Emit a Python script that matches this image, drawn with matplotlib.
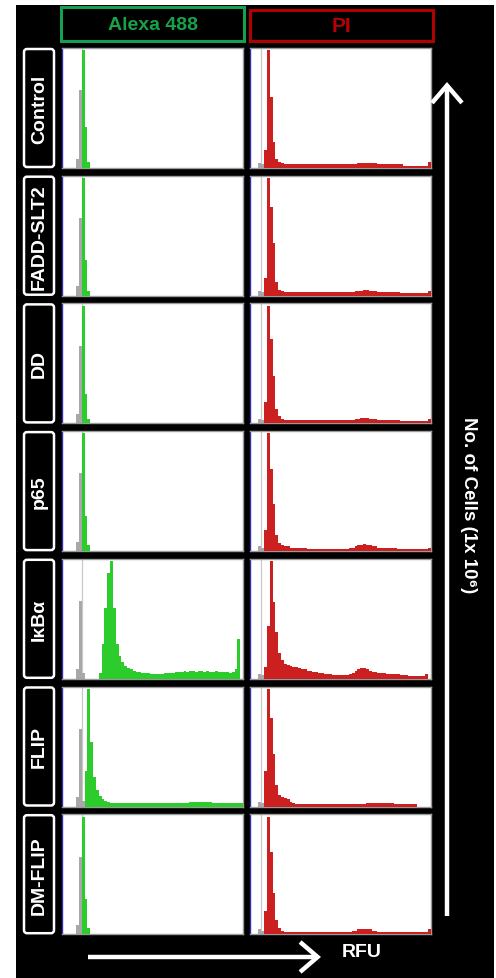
import matplotlib
matplotlib.use("Agg")
import matplotlib.pyplot as plt
from matplotlib.patches import Rectangle, FancyBboxPatch, FancyArrowPatch
import numpy as np

plt.rcParams['font.family'] = ['Liberation Sans', 'DejaVu Sans']

# ---------------- data ----------------
SAMPLES = ["Control", "FADD-SLT2", "DD", "p65", "IκBα", "FLIP", "DM-FLIP"]
CHANNELS = ["Alexa 488", "PI"]
X_LABEL = "RFU"
Y_LABEL = "No. of Cells (1x 10⁶)"

# 64 fluorescence bins (relative counts, % of max)
GRAY_ALEXA = [0, 0, 0, 0, 0, 8, 66, 5, 0, 0, 0, 0, 0, 0, 0, 0,
              0, 0, 0, 0, 0, 0, 0, 0, 0, 0, 0, 0, 0, 0, 0, 0,
              0, 0, 0, 0, 0, 0, 0, 0, 0, 0, 0, 0, 0, 0, 0, 0,
              0, 0, 0, 0, 0, 0, 0, 0, 0, 0, 0, 0, 0, 0, 0, 0]
GRAY_PI = [0, 0, 0, 4, 3, 0, 0, 0, 0, 0, 0, 0, 0, 0, 0, 0,
           0, 0, 0, 0, 0, 0, 0, 0, 0, 0, 0, 0, 0, 0, 0, 0,
           0, 0, 0, 0, 0, 0, 0, 0, 0, 0, 0, 0, 0, 0, 0, 0,
           0, 0, 0, 0, 0, 0, 0, 0, 0, 0, 0, 0, 0, 0, 0, 0]
GATE_ALEXA = 6.9
GATE_PI = 4.0

ALEXA_CONTROL = [0, 0, 0, 0, 0, 0, 0, 100, 35, 5, 0, 0, 0, 0, 0, 0,
                 0, 0, 0, 0, 0, 0, 0, 0, 0, 0, 0, 0, 0, 0, 0, 0,
                 0, 0, 0, 0, 0, 0, 0, 0, 0, 0, 0, 0, 0, 0, 0, 0,
                 0, 0, 0, 0, 0, 0, 0, 0, 0, 0, 0, 0, 0, 0, 0, 0]
ALEXA_FADD = [0, 0, 0, 0, 0, 0, 0, 100, 30, 4, 0, 0, 0, 0, 0, 0,
              0, 0, 0, 0, 0, 0, 0, 0, 0, 0, 0, 0, 0, 0, 0, 0,
              0, 0, 0, 0, 0, 0, 0, 0, 0, 0, 0, 0, 0, 0, 0, 0,
              0, 0, 0, 0, 0, 0, 0, 0, 0, 0, 0, 0, 0, 0, 0, 0]
ALEXA_DD = [0, 0, 0, 0, 0, 0, 0, 100, 25, 4, 0, 0, 0, 0, 0, 0,
            0, 0, 0, 0, 0, 0, 0, 0, 0, 0, 0, 0, 0, 0, 0, 0,
            0, 0, 0, 0, 0, 0, 0, 0, 0, 0, 0, 0, 0, 0, 0, 0,
            0, 0, 0, 0, 0, 0, 0, 0, 0, 0, 0, 0, 0, 0, 0, 0]
ALEXA_P65 = [0, 0, 0, 0, 0, 0, 0, 100, 30, 5, 0, 0, 0, 0, 0, 0,
             0, 0, 0, 0, 0, 0, 0, 0, 0, 0, 0, 0, 0, 0, 0, 0,
             0, 0, 0, 0, 0, 0, 0, 0, 0, 0, 0, 0, 0, 0, 0, 0,
             0, 0, 0, 0, 0, 0, 0, 0, 0, 0, 0, 0, 0, 0, 0, 0]
ALEXA_IKBA = [0, 0, 0, 0, 0, 0, 0, 0, 0, 0, 0, 0, 0, 5, 30, 60,
              90, 100, 60, 30, 19, 14, 11, 9, 8, 7, 6, 6, 5, 5, 5, 4,
              4, 4, 4, 4, 5, 5, 5, 5, 6, 6, 6, 7, 6, 7, 7, 6,
              7, 7, 6, 7, 6, 6, 7, 6, 6, 6, 6, 5, 6, 8, 34, 0]
ALEXA_FLIP = [0, 0, 0, 0, 0, 0, 0, 0, 30, 100, 55, 25, 14, 9, 6, 5,
              4, 3, 3, 3, 3, 3, 3, 3, 3, 3, 3, 3, 3, 3, 3, 3,
              3, 3, 3, 3, 3, 3, 3, 3, 3, 3, 3, 3, 3, 4, 4, 4,
              4, 4, 4, 4, 4, 3, 3, 3, 3, 3, 3, 3, 3, 3, 3, 3]
ALEXA_DMFLIP = [0, 0, 0, 0, 0, 0, 0, 100, 30, 5, 0, 0, 0, 0, 0, 0,
                0, 0, 0, 0, 0, 0, 0, 0, 0, 0, 0, 0, 0, 0, 0, 0,
                0, 0, 0, 0, 0, 0, 0, 0, 0, 0, 0, 0, 0, 0, 0, 0,
                0, 0, 0, 0, 0, 0, 0, 0, 0, 0, 0, 0, 0, 0, 0, 0]

PI_CONTROL = [0, 0, 0, 0, 0, 15, 100, 60, 22, 8, 5, 4, 3, 3, 3, 3,
              3, 3, 3, 3, 3, 3, 3, 3, 3, 3, 3, 3, 3, 3, 3, 3,
              3, 3, 3, 3, 3, 3, 4, 4, 4, 4, 4, 4, 4, 3, 3, 3,
              3, 3, 3, 3, 3, 3, 2, 2, 2, 2, 2, 2, 2, 2, 2, 5]
PI_FADD = [0, 0, 0, 0, 0, 15, 100, 75, 45, 12, 5, 4, 3, 3, 3, 3,
           3, 3, 3, 3, 3, 3, 3, 3, 3, 3, 3, 3, 3, 3, 3, 3,
           3, 3, 3, 3, 3, 4, 4, 4, 5, 5, 4, 4, 4, 3, 3, 3,
           3, 3, 3, 3, 3, 2, 2, 2, 2, 2, 2, 2, 2, 2, 2, 4]
PI_DD = [0, 0, 0, 0, 0, 18, 100, 72, 40, 12, 6, 4, 3, 3, 3, 3,
         3, 3, 3, 3, 3, 3, 3, 3, 3, 3, 3, 3, 3, 3, 3, 3,
         3, 3, 3, 3, 3, 4, 4, 5, 5, 5, 4, 4, 4, 3, 3, 3,
         3, 3, 3, 3, 3, 2, 2, 2, 2, 2, 2, 2, 2, 2, 2, 4]
PI_P65 = [0, 0, 0, 0, 0, 18, 100, 70, 40, 14, 7, 5, 4, 4, 3, 3,
          3, 3, 3, 3, 2, 2, 2, 2, 2, 2, 2, 2, 2, 2, 2, 2,
          2, 2, 2, 3, 3, 4, 5, 5, 6, 5, 5, 4, 4, 3, 3, 3,
          3, 3, 3, 3, 2, 2, 2, 2, 2, 2, 2, 2, 2, 2, 2, 3]
PI_IKBA = [0, 0, 0, 0, 0, 10, 45, 100, 65, 40, 22, 16, 13, 12, 11, 10,
           10, 9, 8, 8, 7, 7, 6, 6, 5, 5, 4, 4, 4, 3, 3, 3,
           3, 3, 3, 4, 5, 7, 8, 9, 9, 8, 7, 6, 6, 5, 5, 5,
           4, 4, 4, 4, 4, 3, 3, 3, 2, 2, 2, 2, 2, 2, 4, 0]
PI_FLIP = [0, 0, 0, 0, 0, 30, 100, 75, 45, 18, 10, 8, 7, 6, 4, 3,
           2, 2, 2, 2, 2, 2, 2, 2, 2, 2, 2, 2, 2, 2, 2, 2,
           2, 2, 2, 2, 2, 2, 2, 2, 2, 3, 3, 3, 3, 3, 3, 3,
           3, 3, 3, 2, 2, 2, 2, 2, 2, 2, 2, 0, 0, 0, 0, 0]
PI_DMFLIP = [0, 0, 0, 0, 0, 20, 100, 70, 35, 12, 5, 3, 2, 2, 2, 2,
             2, 2, 2, 2, 2, 2, 2, 2, 2, 2, 2, 2, 2, 2, 2, 2,
             2, 2, 2, 2, 3, 3, 4, 4, 4, 4, 4, 3, 3, 2, 2, 2,
             2, 2, 2, 2, 2, 2, 2, 2, 2, 2, 2, 2, 2, 2, 2, 4]

ALEXA = [ALEXA_CONTROL, ALEXA_FADD, ALEXA_DD, ALEXA_P65, ALEXA_IKBA, ALEXA_FLIP, ALEXA_DMFLIP]
PI = [PI_CONTROL, PI_FADD, PI_DD, PI_P65, PI_IKBA, PI_FLIP, PI_DMFLIP]

# ---------------- layout / style ----------------
W, H = 496, 979
GREEN = "#2ccc2c"
GREEN_TXT = "#17a24a"
RED = "#cc1f1f"
RED_TXT = "#b80000"

fig = plt.figure(figsize=(W / 100, H / 100), dpi=100)
fig.patch.set_facecolor("white")


def frac(x0, y0, w, h):
    return [x0 / W, 1 - (y0 + h) / H, w / W, h / H]


# overlay for decorations in pixel coordinates
ov = fig.add_axes([0, 0, 1, 1], zorder=0)
ov.set_xlim(0, W)
ov.set_ylim(H, 0)
ov.axis("off")
ov.add_patch(Rectangle((16, 6), 478, 973, facecolor="black", edgecolor="none"))

# header boxes
ov.add_patch(Rectangle((61, 8), 183, 34, facecolor="black", edgecolor="#14a050", lw=2.2))
ov.text(152.5, 25.5, CHANNELS[0], color=GREEN_TXT, fontsize=14, fontweight="bold",
        ha="center", va="center")
ov.add_patch(Rectangle((250, 11), 183, 31, facecolor="black", edgecolor="#b00000", lw=2.2))
ov.text(341.5, 27, CHANNELS[1], color=RED_TXT, fontsize=15, fontweight="bold",
        ha="center", va="center")

row_top0 = 49
row_step = 127.7
row_h = 120
col_x = [62, 250]
col_w = 181
nb = len(ALEXA_CONTROL)
edges = np.arange(nb)

for i, name in enumerate(SAMPLES):
    top = row_top0 + i * row_step
    # label box
    ov.add_patch(FancyBboxPatch((24, top + 1), 30, row_h - 2,
                                boxstyle="round,pad=0,rounding_size=3",
                                facecolor="black", edgecolor="white", lw=1.8))
    ov.text(39.5, top + row_h / 2, name, color="white", fontsize=14, fontweight="bold",
            rotation=90, ha="center", va="center", rotation_mode="anchor")
    for j in range(2):
        ax = fig.add_axes(frac(col_x[j], top, col_w, row_h), zorder=2)
        ax.set_facecolor("white")
        if j == 0:
            gray, vals, col, gate = GRAY_ALEXA, ALEXA[i], GREEN, GATE_ALEXA
        else:
            gray, vals, col, gate = GRAY_PI, PI[i], RED, GATE_PI
        ax.axvline(gate, color="#c8c8c8", lw=0.9, zorder=1)
        ax.bar(edges, gray, width=1.0, align="edge", color="#a8a8a8", lw=0, zorder=2)
        ax.bar(edges, vals, width=1.0, align="edge", color=col, lw=0, zorder=3)
        ax.set_xlim(0, nb)
        ax.set_ylim(0, 102)
        ax.set_xticks([])
        ax.set_yticks([])
        for s in ["top", "right", "bottom"]:
            ax.spines[s].set_color("#9a9a9a")
            ax.spines[s].set_linewidth(1.0)
        ax.spines["left"].set_color("#3030b0")
        ax.spines["left"].set_linewidth(1.0)

# arrows
top_ov = fig.add_axes([0, 0, 1, 1], zorder=5)
top_ov.set_xlim(0, W)
top_ov.set_ylim(H, 0)
top_ov.axis("off")
top_ov.patch.set_alpha(0)
top_ov.add_patch(FancyArrowPatch((447, 917), (447, 83),
                                 arrowstyle="->,head_length=0.7,head_width=0.6",
                                 mutation_scale=18, color="white", lw=3.2,
                                 shrinkA=0, shrinkB=0, capstyle="butt", joinstyle="miter"))
top_ov.add_patch(FancyArrowPatch((88, 958), (321, 958),
                                 arrowstyle="->,head_length=0.7,head_width=0.6",
                                 mutation_scale=18, color="white", lw=3.2,
                                 shrinkA=0, shrinkB=0, capstyle="butt", joinstyle="miter"))
top_ov.text(362, 953, X_LABEL, color="white", fontsize=14, fontweight="bold",
            ha="center", va="center")
top_ov.text(468, 505, Y_LABEL, color="white", fontsize=13.5, fontweight="bold",
            rotation=-90, ha="center", va="center")

fig.savefig("out.png", dpi=100)
